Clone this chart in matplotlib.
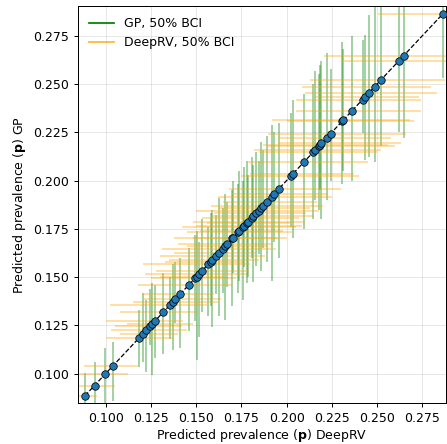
import matplotlib
matplotlib.use("Agg")
import matplotlib.pyplot as plt
import matplotlib.ticker as mticker
import numpy as np

# Posterior mean prevalence per location (DeepRV on x, GP on y)
p_deeprv = [0.0885, 0.0940, 0.0996, 0.1040, 0.1185, 0.1207, 0.1225, 0.1244, 0.1257, 0.1272,
            0.1317, 0.1354, 0.1373, 0.1385, 0.1413, 0.1461, 0.1494, 0.1503, 0.1514, 0.1533,
            0.1566, 0.1580, 0.1590, 0.1610, 0.1625, 0.1647, 0.1660, 0.1672, 0.1700, 0.1705,
            0.1733, 0.1738, 0.1757, 0.1764, 0.1779, 0.1785, 0.1807, 0.1816, 0.1830, 0.1845,
            0.1858, 0.1868, 0.1890, 0.1917, 0.1930, 0.1958, 0.2022, 0.2033, 0.2097, 0.2147,
            0.2156, 0.2178, 0.2184, 0.2193, 0.2222, 0.2243, 0.2307, 0.2312, 0.2359, 0.2420,
            0.2432, 0.2456, 0.2487, 0.2520, 0.2621, 0.2647, 0.2864]
p_gp = [0.0885, 0.0938, 0.0996, 0.1040, 0.1185, 0.1207, 0.1225, 0.1244, 0.1257, 0.1272,
        0.1317, 0.1354, 0.1373, 0.1385, 0.1413, 0.1461, 0.1494, 0.1503, 0.1514, 0.1533,
        0.1566, 0.1580, 0.1590, 0.1610, 0.1625, 0.1647, 0.1660, 0.1672, 0.1700, 0.1705,
        0.1733, 0.1738, 0.1757, 0.1764, 0.1779, 0.1785, 0.1807, 0.1816, 0.1830, 0.1845,
        0.1858, 0.1868, 0.1890, 0.1917, 0.1930, 0.1958, 0.2022, 0.2033, 0.2097, 0.2147,
        0.2156, 0.2178, 0.2184, 0.2193, 0.2222, 0.2243, 0.2307, 0.2312, 0.2359, 0.2420,
        0.2432, 0.2456, 0.2487, 0.2520, 0.2621, 0.2647, 0.2864]

# 50% BCI bounds
gp_lo = [0.0700, 0.0820, 0.0800, 0.0860, 0.1035, 0.1060, 0.1010, 0.1147, 0.0990, 0.1080,
         0.1100, 0.1180, 0.1120, 0.1260, 0.1130, 0.1220, 0.1270, 0.1070, 0.1190, 0.1320,
         0.1300, 0.1350, 0.1240, 0.1410, 0.1300, 0.1420, 0.1280, 0.1450, 0.1350, 0.1520,
         0.1420, 0.1480, 0.1380, 0.1550, 0.1470, 0.1500, 0.1600, 0.1475, 0.1560, 0.1620,
         0.1530, 0.1650, 0.1580, 0.1480, 0.1680, 0.1600, 0.1757, 0.1700, 0.1750, 0.1800,
         0.1900, 0.1850, 0.1950, 0.1800, 0.1900, 0.2000, 0.1980, 0.2050, 0.2000, 0.2247,
         0.2107, 0.2124, 0.2098, 0.2180, 0.2250, 0.2223, 0.2531]
gp_hi = [0.1005, 0.1060, 0.1130, 0.1164, 0.1330, 0.1420, 0.1380, 0.1440, 0.1470, 0.1460,
         0.1520, 0.1500, 0.1570, 0.1580, 0.1600, 0.1650, 0.1720, 0.1740, 0.1680, 0.1800,
         0.1760, 0.1830, 0.1850, 0.1820, 0.1910, 0.1860, 0.1930, 0.1890, 0.1950, 0.2000,
         0.1980, 0.2050, 0.2000, 0.2070, 0.2100, 0.2030, 0.2120, 0.2080, 0.2150, 0.2100,
         0.2200, 0.2160, 0.2230, 0.2287, 0.2250, 0.2300, 0.2350, 0.2420, 0.2450, 0.2500,
         0.2570, 0.2550, 0.2600, 0.2620, 0.2663, 0.2580, 0.2720, 0.2680, 0.2750, 0.2728,
         0.2754, 0.2859, 0.2906, 0.2950, 0.2950, 0.2950, 0.3000]
deeprv_lo = [0.0720, 0.0750, 0.0780, 0.0878, 0.1000, 0.1080, 0.1030, 0.1050, 0.1120, 0.1000,
             0.1080, 0.1025, 0.1150, 0.1210, 0.1200, 0.1180, 0.1250, 0.1300, 0.1220, 0.1280,
             0.1205, 0.1330, 0.1350, 0.1300, 0.1380, 0.1310, 0.1450, 0.1400, 0.1380, 0.1480,
             0.1450, 0.1520, 0.1420, 0.1500, 0.1560, 0.1480, 0.1530, 0.1580, 0.1600, 0.1500,
             0.1620, 0.1580, 0.1650, 0.1620, 0.1700, 0.1680, 0.1750, 0.1800, 0.1780, 0.1850,
             0.1820, 0.1900, 0.1870, 0.1950, 0.1950, 0.1900, 0.2000, 0.1920, 0.2051, 0.2050,
             0.2150, 0.2100, 0.2088, 0.2130, 0.2309, 0.2208, 0.2506]
deeprv_hi = [0.0950, 0.1052, 0.1126, 0.1180, 0.1370, 0.1400, 0.1450, 0.1420, 0.1480, 0.1430,
             0.1510, 0.1560, 0.1620, 0.1640, 0.1600, 0.1700, 0.1720, 0.1650, 0.1780, 0.1790,
             0.1800, 0.1760, 0.1850, 0.1880, 0.1830, 0.1940, 0.1900, 0.1920, 0.2000, 0.1950,
             0.2030, 0.1980, 0.2050, 0.2083, 0.2020, 0.2100, 0.2070, 0.2150, 0.2110, 0.2180,
             0.2130, 0.2200, 0.2170, 0.2250, 0.2230, 0.2300, 0.2400, 0.2371, 0.2450, 0.2498,
             0.2520, 0.2600, 0.2560, 0.2635, 0.2580, 0.2662, 0.2705, 0.2680, 0.2745, 0.2745,
             0.2732, 0.2832, 0.2800, 0.2875, 0.2950, 0.2950, 0.3000]

TICKS = [0.100, 0.125, 0.150, 0.175, 0.200, 0.225, 0.250, 0.275]

x = np.array(p_deeprv)
y = np.array(p_gp)

DPI = 90
fig = plt.figure(figsize=(447 / DPI, 444 / DPI), dpi=DPI)
ax = fig.add_axes([0.1745, 0.0917, 0.8235, 0.8953])

# GP intervals (vertical) and DeepRV intervals (horizontal)
ax.vlines(x, gp_lo, gp_hi, color="green", alpha=0.4, linewidth=1.4, zorder=2)
ax.hlines(y, deeprv_lo, deeprv_hi, color="orange", alpha=0.4, linewidth=1.4, zorder=2)

lo = min(x.min(), y.min())
hi = max(x.max(), y.max())
ax.plot([lo, hi], [lo, hi], "k--", linewidth=1.0, zorder=3)
ax.scatter(x, y, s=36, color="#1f77b4", edgecolor="black", linewidth=0.6, zorder=4)

# legend proxies
ax.plot([], [], color="green", linewidth=1.4, label="GP, 50% BCI")
ax.plot([], [], color="orange", alpha=0.8, linewidth=1.4, label="DeepRV, 50% BCI")
ax.legend(loc="upper left", frameon=False)

ax.set_xlim(0.0847, 0.2882)
ax.set_ylim(0.0846, 0.2906)
ax.set_xticks(TICKS)
ax.set_yticks(TICKS)
ax.xaxis.set_major_formatter(mticker.FormatStrFormatter("%.3f"))
ax.yaxis.set_major_formatter(mticker.FormatStrFormatter("%.3f"))
ax.grid(True, alpha=0.3)
ax.set_axisbelow(True)

ax.set_xlabel(r"Predicted prevalence ($\mathbf{p}$) DeepRV", labelpad=1.5)
ax.set_ylabel(r"Predicted prevalence ($\mathbf{p}$) GP")

fig.savefig("out.png", dpi=DPI)
